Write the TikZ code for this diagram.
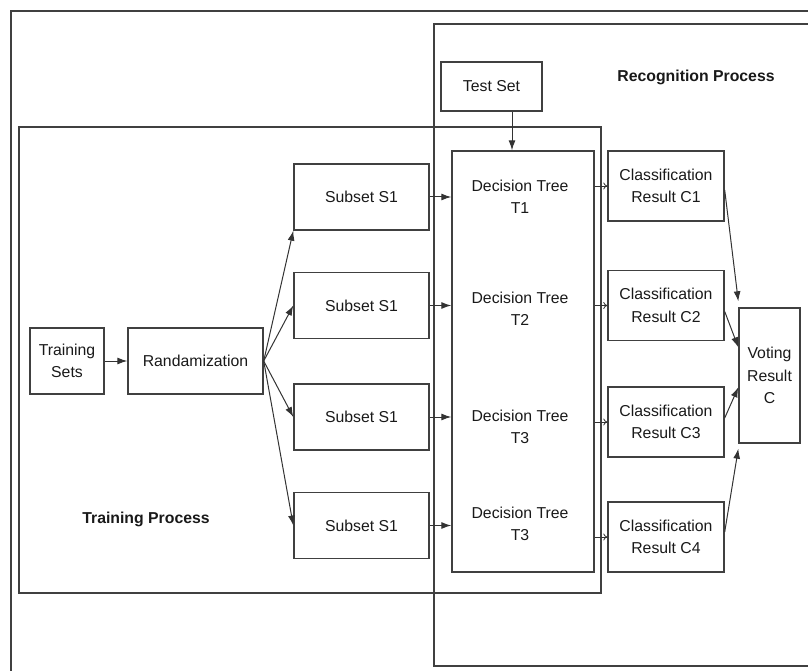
\documentclass[tikz,border=0pt]{standalone}
\usepackage{fontspec}
\setmainfont{Liberation Sans}
\usetikzlibrary{arrows.meta}
\begin{document}
\begin{tikzpicture}[x=1pt, y=-1pt,
  frame/.style={draw=black!75, line width=1.6pt},
  box/.style={draw=black!75, line width=1.4pt, inner sep=0pt, align=center,
    text=black!90, font=\fontsize{15.8}{22.5}\selectfont},
  lbl/.style={inner sep=0pt, align=center, text=black!90,
    font=\fontsize{15.8}{22.5}\selectfont},
  arr/.style={draw=black!80, line width=1pt, -{Latex[length=10pt,width=7pt]}},
  thinarr/.style={draw=black!80, line width=0.8pt, -{To[length=4pt,width=7pt]}}]
\useasboundingbox (0,0) rectangle (808,671);
\draw[frame] (11,671) -- (11,11) -- (808,11);
\draw[frame] (808,24) -- (434,24) -- (434,666) -- (808,666);
\draw[frame] (19,127) rectangle (601,593);
\node[lbl, font=\fontsize{15.8}{18}\selectfont\bfseries] (rp) at (696,77) {Recognition Process};
\node[lbl, font=\fontsize{15.8}{18}\selectfont\bfseries] (tp) at (146,519) {Training Process};
\node[box, minimum width=74, minimum height=66] (ts) at (67,361) {Training\\Sets};
\node[box, minimum width=135, minimum height=66] (ra) at (195.5,361) {Randamization};
\node[box, minimum width=135, minimum height=66] (s1) at (361.5,197) {Subset S1};
\node[box, minimum width=135, minimum height=66] (s2) at (361.5,305.5) {Subset S1};
\node[box, minimum width=135, minimum height=66] (s3) at (361.5,417) {Subset S1};
\node[box, minimum width=135, minimum height=66] (s4) at (361.5,525.5) {Subset S1};
\node[box, minimum width=101, minimum height=49] (test) at (491.5,86.5) {Test Set};
\node[box, minimum width=142, minimum height=421] (dt) at (523,361.5) {};
\node[lbl] (t1) at (520,197) {Decision Tree\\T1};
\node[lbl] (t2) at (520,309) {Decision Tree\\T2};
\node[lbl] (t3) at (520,427) {Decision Tree\\T3};
\node[lbl] (t4) at (520,524) {Decision Tree\\T3};
\node[box, minimum width=116, minimum height=70] (c1) at (666,186) {Classification\\Result C1};
\node[box, minimum width=116, minimum height=70] (c2) at (666,305.5) {Classification\\Result C2};
\node[box, minimum width=116, minimum height=70] (c3) at (666,422) {Classification\\Result C3};
\node[box, minimum width=116, minimum height=70] (c4) at (666,537) {Classification\\Result C4};
\node[box, minimum width=61, minimum height=135] (vote) at (769.5,375.5) {Voting\\Result\\C};
\draw[arr] (ts) -- (ra);
\draw[arr] (ra.east) -- (s1.south west);
\draw[arr] (ra.east) -- (s2.west);
\draw[arr] (ra.east) -- (s3.west);
\draw[arr] (ra.east) -- (s4.west);
\draw[arr] (test.south -| 512,0) -- (dt.north -| 512,0);
\draw[arr] (s1.east) -- (s1.east -| dt.west);
\draw[arr] (s2.east) -- (s2.east -| dt.west);
\draw[arr] (s3.east) -- (s3.east -| dt.west);
\draw[arr] (s4.east) -- (s4.east -| dt.west);
\draw[thinarr] (c1.west -| dt.east) -- (c1.west);
\draw[thinarr] (c2.west -| dt.east) -- (c2.west);
\draw[thinarr] (c3.west -| dt.east) -- (c3.west);
\draw[thinarr] (c4.west -| dt.east) -- (c4.west);
\draw[arr] ([yshift=-4pt]c1.east) -- ([yshift=6pt]vote.north west);
\draw[arr] ([yshift=-6pt]c2.east) -- ([yshift=-40pt]vote.north west);
\draw[arr] ([yshift=4pt]c3.east) -- ([yshift=-80pt]vote.north west);
\draw[arr] ([yshift=5pt]c4.east) -- ([yshift=-5pt]vote.south west);
\end{tikzpicture}
\end{document}
